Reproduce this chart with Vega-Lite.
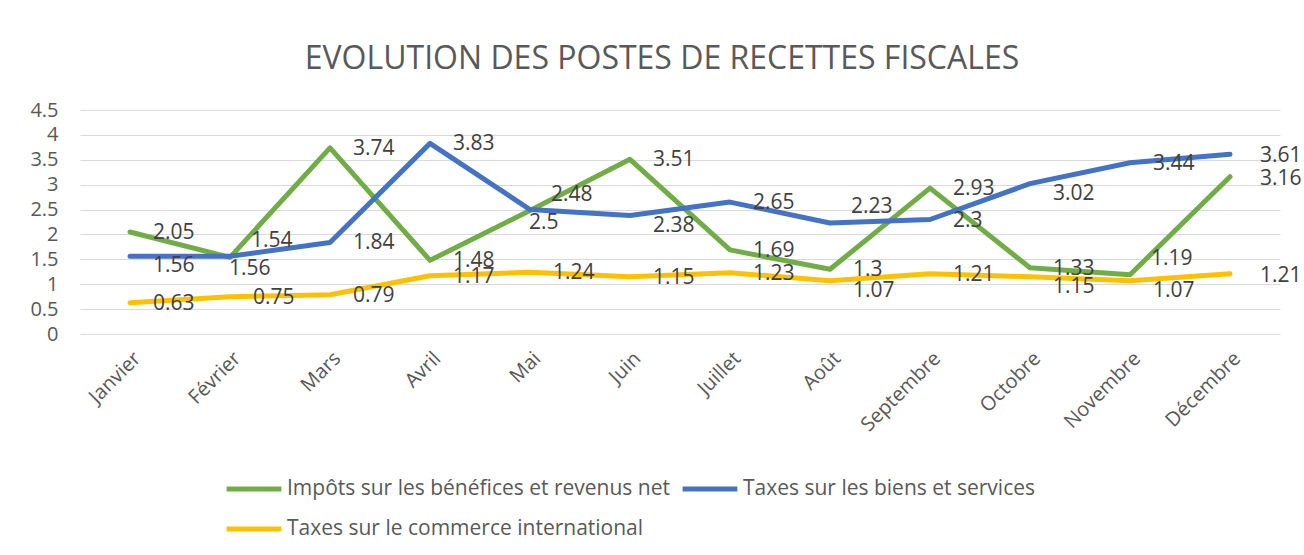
{
  "$schema": "https://vega.github.io/schema/vega-lite/v6.json",
  "width": 1200,
  "height": 224,
  "autosize": {"type": "none"},
  "padding": {"left": 80, "top": 110, "right": 24, "bottom": 221},
  "background": "white",
  "title": {
    "text": "EVOLUTION DES POSTES DE RECETTES FISCALES",
    "fontSize": 32,
    "font": "Open Sans",
    "fontWeight": "normal",
    "color": "#595959",
    "anchor": "middle",
    "dx": -18,
    "offset": 24
  },
  "data": {
    "values": [
      {"mois": "Janvier", "serie": "Impôts sur les bénéfices et revenus net", "valeur": 2.05},
      {"mois": "Février", "serie": "Impôts sur les bénéfices et revenus net", "valeur": 1.54},
      {"mois": "Mars", "serie": "Impôts sur les bénéfices et revenus net", "valeur": 3.74},
      {"mois": "Avril", "serie": "Impôts sur les bénéfices et revenus net", "valeur": 1.48},
      {"mois": "Mai", "serie": "Impôts sur les bénéfices et revenus net", "valeur": 2.48},
      {"mois": "Juin", "serie": "Impôts sur les bénéfices et revenus net", "valeur": 3.51},
      {"mois": "Juillet", "serie": "Impôts sur les bénéfices et revenus net", "valeur": 1.69},
      {"mois": "Août", "serie": "Impôts sur les bénéfices et revenus net", "valeur": 1.3},
      {"mois": "Septembre", "serie": "Impôts sur les bénéfices et revenus net", "valeur": 2.93},
      {"mois": "Octobre", "serie": "Impôts sur les bénéfices et revenus net", "valeur": 1.33},
      {"mois": "Novembre", "serie": "Impôts sur les bénéfices et revenus net", "valeur": 1.19},
      {"mois": "Décembre", "serie": "Impôts sur les bénéfices et revenus net", "valeur": 3.16},
      {"mois": "Janvier", "serie": "Taxes sur les biens et services", "valeur": 1.56},
      {"mois": "Février", "serie": "Taxes sur les biens et services", "valeur": 1.56},
      {"mois": "Mars", "serie": "Taxes sur les biens et services", "valeur": 1.84},
      {"mois": "Avril", "serie": "Taxes sur les biens et services", "valeur": 3.83},
      {"mois": "Mai", "serie": "Taxes sur les biens et services", "valeur": 2.5},
      {"mois": "Juin", "serie": "Taxes sur les biens et services", "valeur": 2.38},
      {"mois": "Juillet", "serie": "Taxes sur les biens et services", "valeur": 2.65},
      {"mois": "Août", "serie": "Taxes sur les biens et services", "valeur": 2.23},
      {"mois": "Septembre", "serie": "Taxes sur les biens et services", "valeur": 2.3},
      {"mois": "Octobre", "serie": "Taxes sur les biens et services", "valeur": 3.02},
      {"mois": "Novembre", "serie": "Taxes sur les biens et services", "valeur": 3.44},
      {"mois": "Décembre", "serie": "Taxes sur les biens et services", "valeur": 3.61},
      {"mois": "Janvier", "serie": "Taxes sur le commerce international", "valeur": 0.63},
      {"mois": "Février", "serie": "Taxes sur le commerce international", "valeur": 0.75},
      {"mois": "Mars", "serie": "Taxes sur le commerce international", "valeur": 0.79},
      {"mois": "Avril", "serie": "Taxes sur le commerce international", "valeur": 1.17},
      {"mois": "Mai", "serie": "Taxes sur le commerce international", "valeur": 1.24},
      {"mois": "Juin", "serie": "Taxes sur le commerce international", "valeur": 1.15},
      {"mois": "Juillet", "serie": "Taxes sur le commerce international", "valeur": 1.23},
      {"mois": "Août", "serie": "Taxes sur le commerce international", "valeur": 1.07},
      {"mois": "Septembre", "serie": "Taxes sur le commerce international", "valeur": 1.21},
      {"mois": "Octobre", "serie": "Taxes sur le commerce international", "valeur": 1.15},
      {"mois": "Novembre", "serie": "Taxes sur le commerce international", "valeur": 1.07},
      {"mois": "Décembre", "serie": "Taxes sur le commerce international", "valeur": 1.21}
    ]
  },
  "encoding": {
    "x": {
      "field": "mois",
      "type": "nominal",
      "sort": null,
      "scale": {"type": "point", "padding": 0.5},
      "axis": {
        "title": null,
        "labelAngle": -45,
        "labelFontSize": 20,
        "labelFont": "Open Sans",
        "labelColor": "#595959",
        "labelPadding": 14,
        "ticks": false,
        "domain": false,
        "grid": false
      }
    },
    "y": {
      "field": "valeur",
      "type": "quantitative",
      "scale": {"domain": [0, 4.5], "nice": false, "zero": true},
      "axis": {
        "title": null,
        "values": [0, 0.5, 1, 1.5, 2, 2.5, 3, 3.5, 4, 4.5],
        "format": "~g",
        "labelFontSize": 20,
        "labelFont": "Open Sans",
        "labelColor": "#595959",
        "labelPadding": 22,
        "ticks": false,
        "domain": false,
        "grid": true,
        "gridColor": "#d9d9d9",
        "gridWidth": 1.2
      }
    }
  },
  "layer": [
    {
      "mark": {"type": "line", "strokeWidth": 5, "strokeCap": "round", "strokeJoin": "round"},
      "encoding": {
        "color": {
          "field": "serie",
          "type": "nominal",
          "scale": {
            "domain": ["Impôts sur les bénéfices et revenus net", "Taxes sur les biens et services", "Taxes sur le commerce international"],
            "range": ["#70AD47", "#4472C4", "#FFC000"]
          },
          "legend": {
            "title": null,
            "orient": "none",
            "legendX": 144,
            "legendY": 349,
            "direction": "horizontal",
            "columns": 2,
            "columnPadding": 2,
            "rowPadding": -11,
            "symbolType": "stroke",
            "symbolSize": 3000,
            "symbolStrokeWidth": 5,
            "labelFontSize": 21,
            "labelFont": "Open Sans",
            "labelColor": "#595959",
            "labelOffset": 3,
            "labelLimit": 600
          }
        }
      }
    },
    {
      "transform": [
        {"calculate": "datum.mois === 'Décembre' ? 'dec' : ((datum.serie[0] === 'I' && indexof(['Février', 'Mai', 'Novembre'], datum.mois) >= 0) || (datum.serie === 'Taxes sur les biens et services' && datum.mois === 'Août')) ? 'up' : (datum.serie === 'Taxes sur les biens et services' && indexof(['Février', 'Mai'], datum.mois) >= 0) ? 'downleft' : ((datum.serie === 'Taxes sur les biens et services' && indexof(['Janvier', 'Juin', 'Octobre'], datum.mois) >= 0) || (datum.serie === 'Taxes sur le commerce international' && indexof(['Août', 'Octobre', 'Novembre'], datum.mois) >= 0)) ? 'down' : 'right'", "as": "place"}
      ],
      "encoding": {"text": {"field": "valeur", "type": "quantitative"}},
      "layer": [
        {
          "transform": [{"filter": "datum.place === 'right'"}],
          "mark": {"type": "text", "align": "left", "baseline": "middle", "dx": 23, "dy": 1, "fontSize": 21, "font": "Open Sans", "color": "#404040"}
        },
        {
          "transform": [{"filter": "datum.place === 'up'"}],
          "mark": {"type": "text", "align": "left", "baseline": "middle", "dx": 21, "dy": -16, "fontSize": 21, "font": "Open Sans", "color": "#404040"}
        },
        {
          "transform": [{"filter": "datum.place === 'down'"}],
          "mark": {"type": "text", "align": "left", "baseline": "middle", "dx": 23, "dy": 10, "fontSize": 21, "font": "Open Sans", "color": "#404040"}
        },
        {
          "transform": [{"filter": "datum.place === 'downleft'"}],
          "mark": {"type": "text", "align": "left", "baseline": "middle", "dx": -1, "dy": 13, "fontSize": 21, "font": "Open Sans", "color": "#404040"}
        },
        {
          "transform": [{"filter": "datum.place === 'dec'"}],
          "mark": {"type": "text", "align": "left", "baseline": "middle", "dx": 30, "dy": 2, "fontSize": 21, "font": "Open Sans", "color": "#404040"}
        }
      ]
    }
  ],
  "config": {"view": {"stroke": null}}
}
